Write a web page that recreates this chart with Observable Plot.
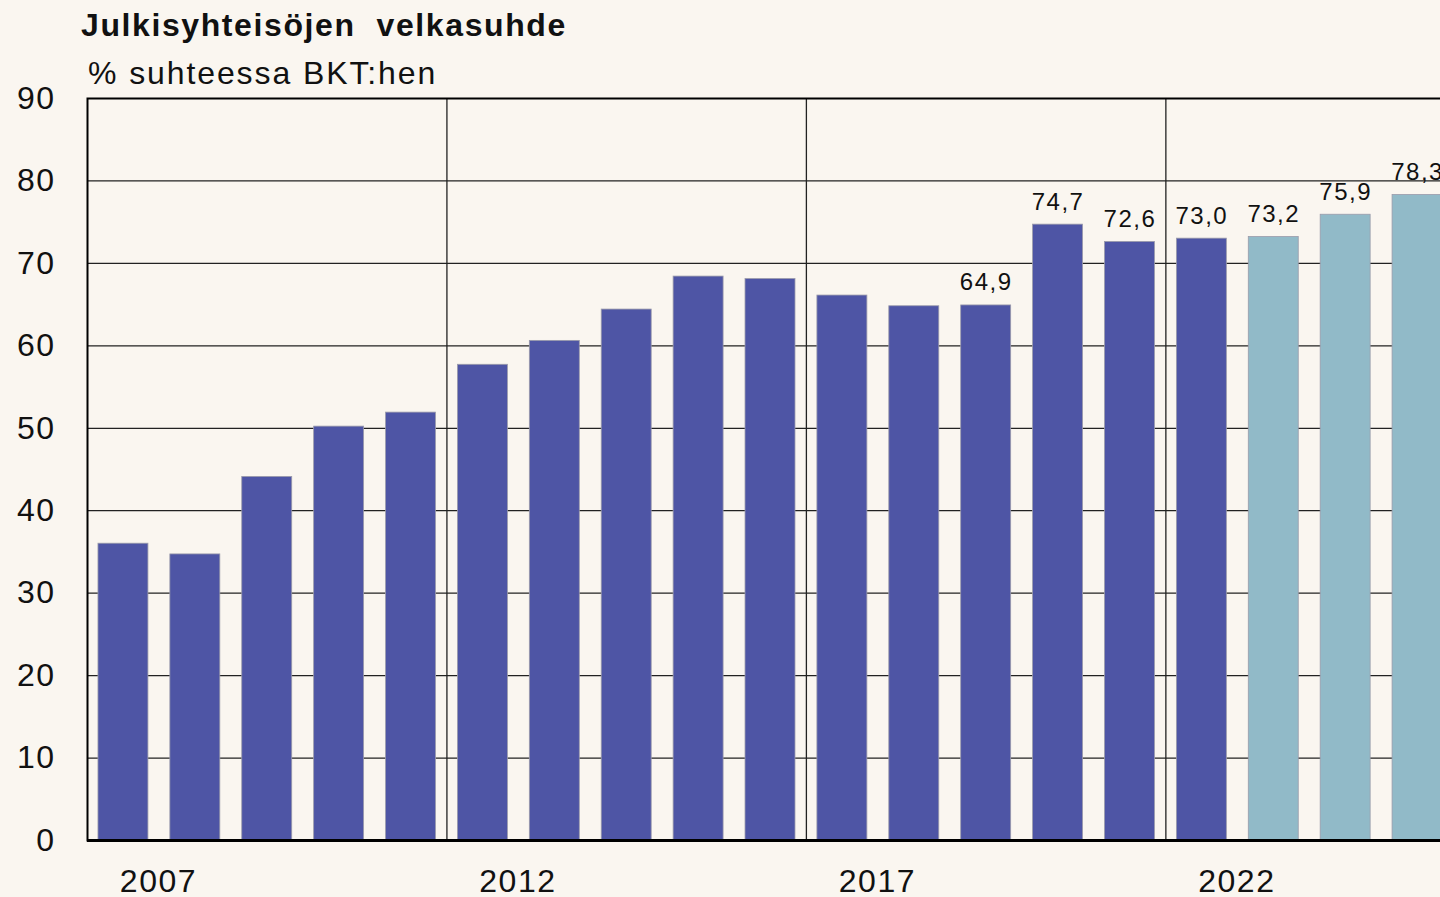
<!DOCTYPE html>
<html>
<head>
<meta charset="utf-8">
<script src="https://cdn.jsdelivr.net/npm/d3@7"></script>
<script src="https://cdn.jsdelivr.net/npm/@observablehq/plot@0.6"></script>
<style>
  html, body { margin: 0; padding: 0; background: #FAF6F0; overflow: hidden; width: 1440px; height: 897px; }
  body { position: relative; font-family: "Liberation Sans", Arial, sans-serif; }
  #title { position: absolute; left: 81px; top: 9px; font-size: 32px; line-height: 32px; font-weight: bold; letter-spacing: 1.6px; color: #111; white-space: pre; }
  #subtitle { position: absolute; left: 88px; top: 57px; font-size: 32px; line-height: 32px; letter-spacing: 1.9px; color: #111; white-space: pre; }
  #chart { position: absolute; left: 0; top: 0; width: 1460px; height: 897px; }
  #chart svg { max-width: none !important; width: 1460px !important; height: 897px !important; }
  #chart svg text { letter-spacing: 1.5px; }
</style>
</head>
<body>
<div id="chart"></div>
<div id="title">Julkisyhteisöjen  velkasuhde</div>
<div id="subtitle">% suhteessa BKT:hen</div>
<script>
const years = [2007, 2008, 2009, 2010, 2011, 2012, 2013, 2014, 2015, 2016, 2017, 2018, 2019, 2020, 2021, 2022, 2023, 2024, 2025];
const debtRatio = [36.0, 34.7, 44.1, 50.2, 51.9, 57.7, 60.6, 64.4, 68.4, 68.1, 66.1, 64.8, 64.9, 74.7, 72.6, 73.0, 73.2, 75.9, 78.3];
const seriesKind = ["toteutunut","toteutunut","toteutunut","toteutunut","toteutunut","toteutunut","toteutunut","toteutunut","toteutunut","toteutunut","toteutunut","toteutunut","toteutunut","toteutunut","toteutunut","toteutunut","ennuste","ennuste","ennuste"];
const labeledYears = [2019, 2020, 2021, 2022, 2023, 2024, 2025];
const yTicks = [0, 10, 20, 30, 40, 50, 60, 70, 80, 90];
const xLabelYears = [2007, 2012, 2017, 2022];
const dividerYears = [2012, 2017, 2022];

const data = years.map((y, i) => ({year: y, value: debtRatio[i], kind: seriesKind[i]}));
const labelData = data.filter(d => labeledYears.includes(d.year));
const fmt = v => v.toFixed(1).replace(".", ",");

const chart = Plot.plot({
  width: 1460,
  height: 897,
  marginLeft: 87,
  marginRight: 7,
  marginTop: 98,
  marginBottom: 57,
  style: {background: "transparent", fontFamily: "Liberation Sans, Arial, sans-serif", color: "#111", overflow: "visible"},
  x: {type: "band", domain: years, paddingInner: 0.305, paddingOuter: 0.1525, round: false, axis: null},
  y: {domain: [0, 90], ticks: yTicks},
  color: {domain: ["toteutunut", "ennuste"], range: ["#4E55A5", "#91BAC8"]},
  marks: [
    Plot.gridY(yTicks, {stroke: "#222", strokeOpacity: 1, strokeWidth: 1.2}),
    Plot.ruleX(dividerYears, {x: d => d, y1: 0, y2: 90, dx: -36, stroke: "#222", strokeWidth: 1.3}),
    Plot.barY(data, {x: "year", y: "value", fill: "kind", stroke: "#9b9bab", strokeWidth: 0.8}),
    Plot.frame({stroke: "#000", strokeWidth: 2}),
    Plot.ruleY([0], {stroke: "#000", strokeWidth: 3}),
    Plot.axisY(yTicks, {tickSize: 0, tickPadding: 32, fontSize: 32, label: null, fill: "#111"}),
    Plot.text(labelData, {x: "year", y: "value", text: d => fmt(d.value), lineAnchor: "bottom", dy: -15, fontSize: 24, fill: "#111"}),
    Plot.text(xLabelYears, {x: d => d, y: 0, text: d => String(d), dx: 35, dy: 41, lineAnchor: "middle", fontSize: 32, fill: "#111"})
  ]
});
document.getElementById("chart").appendChild(chart);
</script>
</body>
</html>
